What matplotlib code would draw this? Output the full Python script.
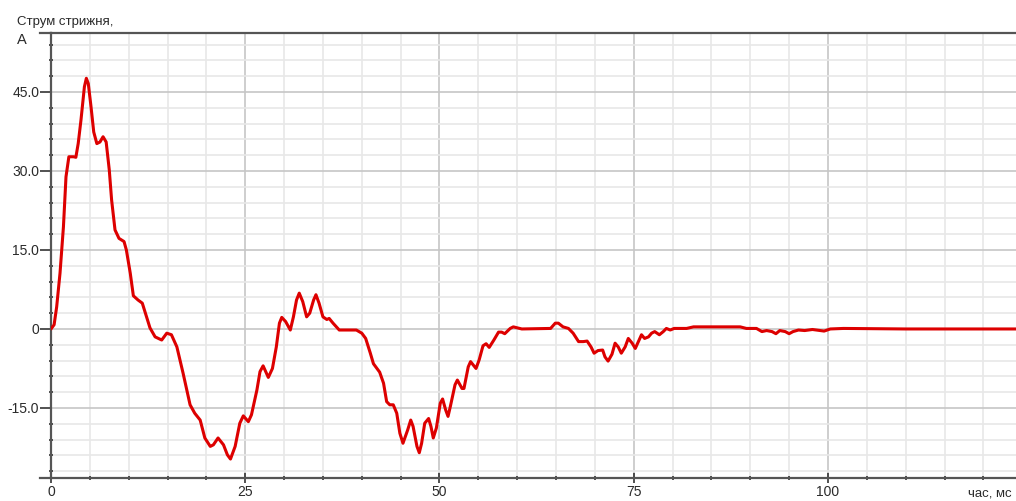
import matplotlib.pyplot as plt
from matplotlib.lines import Line2D
from matplotlib.ticker import MultipleLocator, FixedLocator

plt.rcParams['font.family'] = ['Liberation Sans', 'DejaVu Sans']

# час, мс
t = [0, 0.4, 0.73, 1.16, 1.6, 1.93, 2.3, 2.9, 3.2, 3.5, 3.86, 4.3, 4.55, 4.8,
     5.15, 5.5, 5.9, 6.3, 6.7, 7.1, 7.5, 7.8, 8.24, 8.75, 9.4, 9.7, 10.2, 10.6,
     11.2, 11.75, 12.3, 12.74, 13.4, 14.25, 14.9, 15.5, 16.2, 17.0, 17.9, 18.5,
     19.2, 19.8, 20.5, 20.9, 21.5, 22.2, 22.7, 23.1, 23.7, 24.3, 24.75, 25.4,
     25.8, 26.5, 26.9, 27.3, 27.97, 28.5, 29.0, 29.4, 29.7, 30.2, 30.8, 31.2,
     31.6, 31.95, 32.4, 32.9, 33.3, 33.8, 34.1, 34.5, 35.0, 35.5, 35.8, 36.3,
     37.1, 39.3, 40.0, 40.5, 41.1, 41.5, 42.3, 42.8, 43.2, 43.6, 44.05, 44.5,
     44.9, 45.3, 45.9, 46.3, 46.6, 47.1, 47.4, 47.7, 48.1, 48.6, 48.9, 49.2,
     49.6, 50.1, 50.4, 50.8, 51.1, 51.4, 52.0, 52.3, 52.9, 53.15, 53.7, 54.0,
     54.7, 55.1, 55.6, 56.0, 56.4, 57.0, 57.6, 58.0, 58.4, 59.1, 59.5, 60.6,
     63.8, 64.3, 64.9, 65.3, 65.9, 66.6, 67.2, 67.9, 68.5, 69.0, 69.5, 69.9,
     70.4, 71.0, 71.3, 71.7, 72.2, 72.6, 73.0, 73.4, 73.9, 74.3, 74.8, 75.2,
     75.6, 76.0, 76.4, 76.9, 77.3, 77.7, 78.3, 78.8, 79.2, 79.7, 80.2, 80.95,
     81.8, 82.7, 88.7, 89.5, 90.8, 91.5, 92.1, 92.8, 93.3, 93.8, 94.5, 95.0,
     95.5, 96.2, 97.0, 98.0, 99.5, 100.3, 102.0, 110.0, 124.5]

# Струм стрижня, А
current = [0, 0.8, 4.2, 10.6, 19.4, 28.9, 32.7, 32.7, 32.6, 35.2, 39.7, 46.0,
           47.6, 46.6, 42.2, 37.4, 35.2, 35.5, 36.5, 35.5, 30.2, 24.5, 18.8,
           17.2, 16.6, 15.0, 10.6, 6.3, 5.5, 4.9, 2.3, 0.2, -1.5, -2.1, -0.8,
           -1.1, -3.4, -8.4, -14.4, -16.0, -17.3, -20.7, -22.3, -22.0, -20.7,
           -22.0, -23.9, -24.7, -22.3, -17.9, -16.5, -17.6, -16.3, -11.6, -8.1,
           -7.0, -9.2, -7.5, -3.4, 1.1, 2.2, 1.4, -0.2, 2.3, 5.5, 6.8, 5.2, 2.3,
           3.0, 5.5, 6.5, 4.9, 2.3, 1.8, 2.0, 1.1, -0.2, -0.2, -0.8, -1.8, -4.6,
           -6.6, -8.2, -10.3, -13.8, -14.4, -14.4, -16.0, -19.8, -21.7, -19.2,
           -17.3, -18.5, -22.3, -23.5, -21.7, -17.9, -17.0, -18.5, -20.7, -18.8,
           -14.1, -13.3, -15.4, -16.6, -14.7, -10.6, -9.7, -11.3, -11.3, -7.2,
           -6.2, -7.5, -5.9, -3.2, -2.8, -3.5, -2.1, -0.6, -0.6, -0.9, 0.1, 0.4,
           0.0, 0.1, 0.1, 1.1, 1.1, 0.4, 0.1, -0.8, -2.4, -2.4, -2.3, -3.4, -4.6,
           -4.1, -4.0, -5.3, -6.1, -4.8, -2.7, -3.4, -4.6, -3.4, -1.8, -2.7,
           -3.7, -2.4, -1.1, -1.8, -1.5, -0.8, -0.5, -1.1, -0.5, 0.1, -0.2, 0.1,
           0.1, 0.1, 0.4, 0.4, 0.1, 0.1, -0.5, -0.3, -0.5, -0.9, -0.3, -0.5,
           -0.9, -0.5, -0.2, -0.3, -0.1, -0.4, 0.0, 0.1, 0.0, 0.0]

x_major = [0, 25, 50, 75, 100]
y_major = [-15, 0, 15, 30, 45]
y_labels = ['-15.0', '0', '15.0', '30.0', '45.0']

W, H = 1016, 501
fig = plt.figure(figsize=(W / 100, H / 100), dpi=100)
ax = fig.add_axes([51 / W, 23 / H, 1 - 51 / W, 445 / H])

ax.plot(t, current, color='#dd0000', lw=2.2, solid_joinstyle='round',
        solid_capstyle='round', zorder=3)

ax.set_xlim(0, 124.2)
ax.set_ylim(-28.3, 56.2)

ax.xaxis.set_major_locator(FixedLocator(x_major))
ax.xaxis.set_minor_locator(MultipleLocator(5))
ax.yaxis.set_major_locator(FixedLocator(y_major))
ax.yaxis.set_minor_locator(MultipleLocator(3))
ax.set_yticklabels(y_labels)

ax.grid(which='minor', color='#e8e8e8', lw=1.2)
ax.grid(which='major', color='#c6c6c6', lw=1.2)
ax.set_axisbelow(True)

ax.tick_params(axis='both', which='major', labelsize=10, colors='#333333',
               labelcolor='#2a2a2a', width=1.2)
ax.tick_params(axis='x', which='major', direction='inout', length=6.5, pad=2)
ax.tick_params(axis='y', which='major', direction='out', length=8, pad=0.5)
ax.tick_params(axis='both', which='minor', direction='inout', length=3.5,
               width=1.2, colors='#333333')

for side in ('left', 'bottom', 'top'):
    ax.spines[side].set_color('#555555')
    ax.spines[side].set_linewidth(1.6)
ax.spines['right'].set_visible(False)

# axis lines run a little past the left spine
for yy in (33, 478):
    fig.add_artist(Line2D([40 / W, 51 / W], [1 - yy / H, 1 - yy / H],
                          color='#555555', lw=1.6))

fig.text(17 / W, 1 - 22 / H, 'Струм стрижня,', fontsize=9.5,
         color='#2a2a2a', va='center', ha='left')
fig.text(17 / W, 1 - 40 / H, 'А', fontsize=10.5, color='#2a2a2a',
         va='center', ha='left')
fig.text(968 / W, 1 - 494 / H, 'час, мс', fontsize=9.5, color='#2a2a2a',
         va='center', ha='left')

fig.savefig('out.png', dpi=100)
